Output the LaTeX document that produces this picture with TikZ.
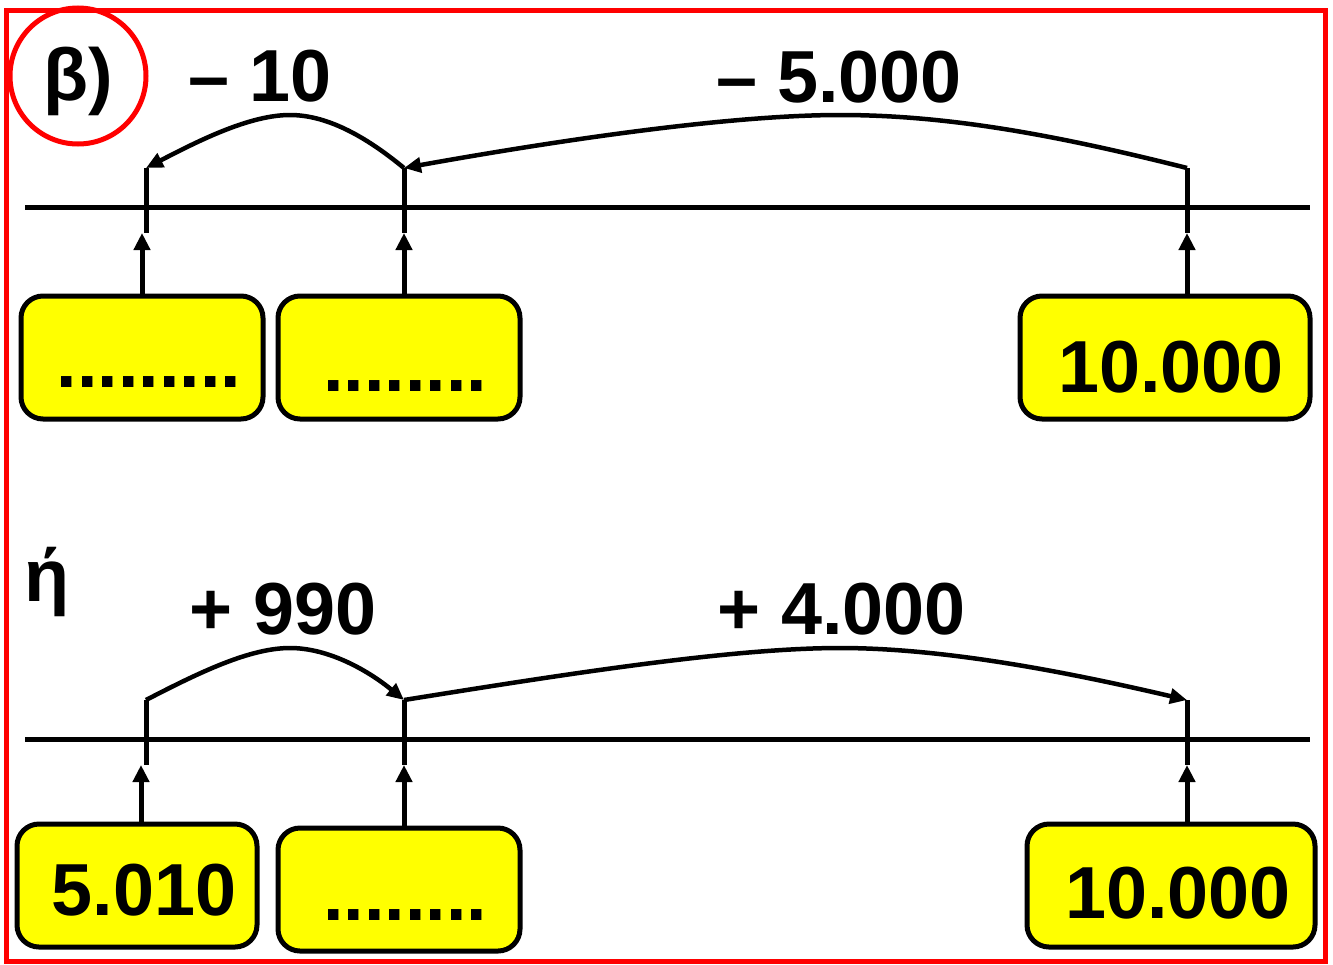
\documentclass[tikz,border=0pt]{standalone}
\usepackage{fontspec}
\setmainfont{Liberation Sans}
\usetikzlibrary{arrows.meta}
\definecolor{boxyellow}{RGB}{255,255,0}
\definecolor{framered}{RGB}{255,0,0}
\begin{document}
\begin{tikzpicture}[x=1bp,y=-1bp,
  ln/.style={line width=5bp},
  box/.style={draw, line width=5bp, fill=boxyellow, rounded corners=22bp, inner sep=0pt, outer sep=0pt, anchor=north west},
  big/.style={font=\fontsize{74}{80}\selectfont\bfseries, inner sep=0pt, anchor=base},
  arr/.style={line width=5bp, -{Triangle[length=17bp,width=16bp]}},
  arc/.style={line width=4.5bp, -{Triangle[length=17bp,width=15bp]}},
  ]
\useasboundingbox (0,0) rectangle (1333,964);
% frame
\draw[framered, line width=5bp] (6,10) rectangle (1325,961);
\node[draw=framered, line width=5bp, circle, minimum size=136bp, inner sep=0pt, outer sep=0pt] (circ) at (78,76) {};
\node[big] (beta) at (78,100) {β)};

% ---------- top row ----------
\coordinate (L1a) at (25,207);
\coordinate (L1b) at (1310,207);
\draw[ln] (L1a) -- (L1b);
\coordinate (a1t) at (146,168); \coordinate (a1b) at (146,233);
\coordinate (a2t) at (404,168); \coordinate (a2b) at (404,233);
\coordinate (a3t) at (1187,168); \coordinate (a3b) at (1187,233);
\draw[ln] (a1t) -- (a1b);
\draw[ln] (a2t) -- (a2b);
\draw[ln] (a3t) -- (a3b);

\node[box, minimum width=242bp, minimum height=123bp] (b1) at (21,296) {};
\node[box, minimum width=242bp, minimum height=123bp] (b2) at (278,296) {};
\node[box, minimum width=290bp, minimum height=123bp] (b3) at (1020,296) {};

\node[big] (b1t) at (149,387) {.........};
\node[big] (b2t) at (405,391) {........};
\node[big] (b3t) at (1171,392) {10.000};

\draw[arr] (b1.north) -- (b1.north |- a1b);
\draw[arr] (b2.north -| a2b) -- (a2b);
\draw[arr] (b3.north -| a3b) -- (a3b);

\draw[arc] (a2t) .. controls (370,140) and (330,115) .. (290,115)
                 .. controls (250,115) and (200,140) .. (a1t);
\draw[arc] (a3t) .. controls (1060,136) and (950,115) .. (840,115)
                 .. controls (730,115) and (560,140) .. (a2t);

\node[big] (lab1) at (260,101) {– 10};
\node[big] (lab2) at (839,102) {– 5.000};

% ---------- bottom row ----------
\node[font=\fontsize{74}{80}\selectfont\bfseries, inner sep=0pt, anchor=base west] (eta) at (24,601) {ή};

\coordinate (L2a) at (25,739);
\coordinate (L2b) at (1310,739);
\draw[ln] (L2a) -- (L2b);
\coordinate (c1t) at (146,700); \coordinate (c1b) at (146,765);
\coordinate (c2t) at (404,700); \coordinate (c2b) at (404,765);
\coordinate (c3t) at (1187,700); \coordinate (c3b) at (1187,765);
\draw[ln] (c1t) -- (c1b);
\draw[ln] (c2t) -- (c2b);
\draw[ln] (c3t) -- (c3b);

\node[box, minimum width=240bp, minimum height=123bp] (d1) at (17,824) {};
\node[box, minimum width=242bp, minimum height=123bp] (d2) at (278,828) {};
\node[box, minimum width=288bp, minimum height=123bp] (d3) at (1027,824) {};

\node[big] (d1t) at (144,915) {5.010};
\node[big] (d2t) at (405,920) {........};
\node[big] (d3t) at (1178,918) {10.000};

\draw[arr] (d1.north -| 141,0) -- (141,765);
\draw[arr] (d2.north -| c2b) -- (c2b);
\draw[arr] (d3.north -| c3b) -- (c3b);

\draw[arc] (c1t) .. controls (200,672) and (250,648) .. (290,648)
                 .. controls (330,648) and (370,672) .. (c2t);
\draw[arc] (c2t) .. controls (560,675) and (730,648) .. (840,648)
                 .. controls (950,648) and (1080,675) .. (c3t);

\node[big] (lab3) at (283,634) {+ 990};
\node[big] (lab4) at (842,634) {+ 4.000};
\end{tikzpicture}
\end{document}
